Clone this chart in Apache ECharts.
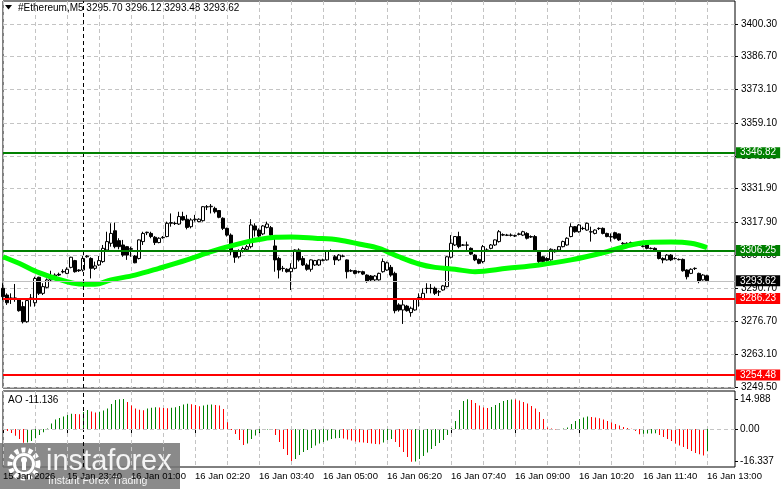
<!DOCTYPE html>
<html><head><meta charset="utf-8">
<script src="https://cdn.jsdelivr.net/npm/echarts@6/dist/echarts.min.js"></script>
<style>html,body{margin:0;padding:0;background:#fff}#c{width:781px;height:489px}</style>
</head><body><div id="c"></div>
<script>
const symbolName = '#Ethereum,M5';
const tickLabels = ['15 Jan 2026','15 Jan 23:40','16 Jan 01:00','16 Jan 02:20','16 Jan 03:40','16 Jan 05:00','16 Jan 06:20','16 Jan 07:40','16 Jan 09:00','16 Jan 10:20','16 Jan 11:40','16 Jan 13:00'];
const priceTicks = [3400.30,3386.70,3373.10,3359.10,3345.50,3331.90,3317.90,3304.30,3290.70,3276.70,3263.10,3249.50];
const aoTicks = [14.988, 0, -16.337];
const aoTickLabels = ['14.988','0.00','-16.337'];
const supportResistance = [3346.82, 3306.25, 3286.23, 3254.48];
const levelKinds = ['buy','buy','sell','sell'];

const opens = [
3290.5,3287.7,3286.2,3286.2,3285.9,3282.9,3276.6,3285.9,3284.5,3295.1,
3288.4,3290.9,3294.0,3295.6,3296.3,3297.3,3296.7,3299.2,3302.0,3298.1,
3298.1,3303.6,3302.9,3298.8,3300.2,3301.6,3306.4,3309.2,3314.4,3310.3,
3308.5,3307.8,3306.7,3303.9,3302.9,3309.9,3313.6,3313.3,3311.7,3309.5,
3311.5,3312.0,3317.5,3317.4,3317.2,3320.3,3319.2,3316.1,3319.0,3318.2,
3318.6,3324.3,3324.4,3323.7,3322.8,3319.6,3315.4,3312.6,3306.1,3303.6,
3306.0,3306.7,3307.8,3316.4,3314.7,3313.1,3315.8,3315.7,3308.1,3302.9,
3298.8,3298.4,3297.4,3298.8,3306.4,3302.9,3300.2,3298.4,3300.2,3300.2,
3302.1,3302.3,3306.0,3303.6,3302.3,3303.8,3302.3,3297.8,3297.8,3297.4,
3297.4,3296.0,3295.6,3294.0,3294.0,3297.4,3298.1,3299.2,3296.7,3283.6,
3281.5,3283.1,3280.4,3281.5,3286.6,3285.9,3290.4,3290.4,3290.5,3289.0,
3289.8,3291.2,3303.4,3308.5,3312.0,3308.4,3308.4,3307.1,3304.3,3302.5,
3301.6,3306.3,3307.1,3308.5,3309.9,3312.6,3312.5,3312.5,3312.2,3312.9,
3312.6,3313.3,3311.8,3312.0,3305.7,3303.6,3302.9,3302.3,3305.7,3306.4,
3307.8,3308.5,3312.0,3316.1,3314.0,3315.3,3314.7,3313.9,3313.3,3315.3,
3315.4,3313.3,3311.8,3313.6,3313.1,3309.0,3309.0,3309.3,3309.0,3308.4,
3307.9,3308.5,3307.0,3307.1,3305.7,3302.9,3302.3,3304.3,3302.8,3302.4,
3302.5,3298.1,3296.7,3298.7,3296.7,3294.0,3295.70];
const closes = [
3287.0,3284.5,3286.5,3286.5,3281.2,3276.6,3285.4,3286.5,3294.6,3288.4,
3291.2,3294.0,3295.3,3296.0,3296.0,3297.5,3298.4,3303.4,3297.4,3297.8,
3302.9,3303.9,3298.8,3299.8,3302.0,3307.1,3309.9,3313.3,3307.8,3307.8,
3304.3,3304.3,3307.0,3301.1,3310.6,3313.3,3313.8,3312.0,3309.5,3311.3,
3311.7,3317.5,3317.8,3317.5,3320.3,3318.9,3315.8,3318.9,3319.2,3319.2,
3324.4,3324.4,3324.6,3322.3,3320.0,3315.4,3312.6,3305.7,3303.4,3306.1,
3307.0,3307.8,3316.8,3314.7,3312.2,3316.4,3317.2,3312.6,3302.3,3298.1,
3298.7,3297.4,3298.8,3306.4,3302.3,3300.2,3298.4,3302.3,3302.0,3302.3,
3302.3,3306.1,3306.1,3302.3,3304.3,3303.9,3297.4,3297.7,3296.7,3297.3,
3296.4,3293.3,3294.0,3295.6,3296.7,3301.6,3301.1,3296.0,3281.2,3281.5,
3283.6,3281.2,3282.2,3285.9,3286.7,3288.4,3290.5,3290.5,3288.4,3289.1,
3291.5,3303.6,3309.2,3312.0,3307.8,3308.5,3308.5,3304.7,3302.3,3300.9,
3307.8,3306.4,3308.5,3310.6,3314.0,3312.8,3312.6,3312.6,3312.4,3313.1,
3314.0,3311.3,3312.0,3306.4,3301.6,3301.6,3302.0,3306.7,3306.4,3307.8,
3309.9,3311.3,3316.1,3314.0,3316.8,3315.4,3317.5,3314.0,3314.7,3315.4,
3313.3,3312.0,3312.0,3311.3,3310.6,3309.2,3309.2,3309.5,3309.2,3308.5,
3308.1,3307.1,3307.1,3306.1,3302.9,3302.3,3304.3,3302.3,3302.9,3302.5,
3297.8,3295.3,3298.4,3298.8,3293.3,3296.0,3293.62];
const lows = [
3285.6,3283.6,3284.0,3284.9,3280.8,3275.9,3276.2,3282.9,3282.9,3287.7,
3287.7,3290.5,3293.3,3295.3,3295.6,3296.7,3296.4,3298.8,3297.0,3297.3,
3297.4,3303.2,3294.6,3298.1,3299.8,3301.1,3305.7,3307.8,3307.1,3306.7,
3303.6,3302.3,3303.6,3300.9,3302.5,3308.5,3312.6,3311.3,3308.5,3309.2,
3311.1,3311.7,3316.1,3316.8,3316.8,3318.6,3315.0,3315.4,3318.2,3317.9,
3318.2,3323.0,3321.6,3321.6,3319.6,3314.7,3312.0,3304.3,3301.1,3302.9,
3305.3,3306.1,3307.1,3312.0,3311.7,3312.6,3315.4,3312.2,3297.4,3294.6,
3297.4,3297.0,3289.8,3298.4,3301.6,3299.8,3297.8,3297.4,3299.8,3299.8,
3301.7,3302.0,3305.6,3300.2,3301.8,3303.4,3294.6,3297.3,3296.3,3296.7,
3296.0,3292.8,3293.5,3293.3,3293.7,3297.0,3297.8,3295.3,3280.1,3280.8,
3275.7,3280.8,3278.7,3281.2,3282.9,3285.6,3288.4,3288.4,3287.7,3287.3,
3289.5,3290.9,3302.9,3308.1,3307.1,3308.1,3306.4,3304.3,3301.8,3300.5,
3300.9,3305.9,3306.7,3308.1,3309.5,3312.2,3312.2,3312.0,3311.8,3312.5,
3312.2,3310.8,3311.4,3305.7,3300.9,3301.1,3301.6,3302.0,3305.3,3306.1,
3307.5,3308.2,3311.7,3313.6,3313.6,3314.7,3314.4,3309.9,3312.9,3314.7,
3312.9,3311.7,3309.9,3310.8,3310.2,3308.6,3308.8,3308.9,3308.6,3308.1,
3307.5,3306.7,3306.7,3305.7,3302.5,3300.9,3302.0,3301.8,3302.5,3302.1,
3297.4,3294.2,3296.4,3298.1,3292.6,3293.7,3293.48];
const highs = [
3292.6,3288.4,3288.4,3292.3,3286.3,3284.9,3286.3,3288.1,3295.3,3295.3,
3292.6,3294.6,3297.8,3296.7,3297.0,3298.4,3299.2,3303.6,3302.3,3298.4,
3303.9,3304.3,3303.4,3301.6,3303.9,3308.5,3314.0,3317.5,3317.8,3311.3,
3310.6,3308.1,3307.8,3304.3,3310.8,3314.0,3314.0,3314.0,3312.2,3311.7,
3312.2,3318.2,3321.6,3318.2,3322.3,3322.3,3321.0,3319.6,3321.0,3319.6,
3324.7,3325.1,3325.5,3324.4,3323.0,3320.0,3315.7,3313.3,3306.4,3306.7,
3307.8,3308.5,3319.2,3317.5,3315.4,3316.8,3318.2,3316.4,3312.6,3303.6,
3299.8,3298.8,3300.9,3306.7,3307.1,3303.9,3300.9,3302.5,3302.3,3302.5,
3302.8,3306.4,3306.7,3304.3,3304.7,3304.5,3302.5,3298.4,3298.1,3297.8,
3297.8,3296.3,3296.0,3296.0,3297.0,3302.9,3301.6,3300.2,3297.4,3284.3,
3285.6,3283.6,3282.9,3286.3,3288.4,3290.5,3292.6,3292.3,3291.2,3289.8,
3291.9,3303.9,3312.6,3312.2,3314.0,3308.9,3309.9,3307.5,3304.7,3302.9,
3308.5,3307.1,3308.9,3310.8,3314.7,3313.3,3313.1,3313.3,3312.8,3313.6,
3314.4,3313.8,3312.5,3312.6,3306.4,3303.9,3303.4,3307.1,3306.8,3308.1,
3310.3,3311.7,3317.5,3316.4,3317.2,3316.1,3317.8,3316.1,3315.0,3315.8,
3315.8,3313.6,3313.3,3314.0,3313.3,3309.7,3309.6,3309.9,3309.6,3308.9,
3308.5,3308.9,3307.5,3307.5,3306.1,3303.4,3304.7,3304.7,3303.4,3302.9,
3302.9,3298.4,3298.8,3299.2,3297.0,3296.4,3296.12];
const aoValues = [
-0.6,-1.0,-2.0,-3.4,-5.0,-6.9,-6.7,-6.0,-4.6,-3.0,
-1.6,0.3,2.8,4.8,5.5,6.3,7.0,7.6,7.5,7.4,
8.5,9.5,8.8,8.3,8.6,9.2,10.2,12.5,14.5,14.9,
14.988,13.5,11.8,10.2,9.6,9.4,10.2,10.6,10.9,10.7,
10.5,10.4,10.6,10.9,11.5,12.2,12.6,12.4,12.0,11.4,
11.7,12.1,12.3,12.0,11.8,10.0,3.4,-0.5,-2.5,-5.5,
-8.0,-7.3,-5.0,-3.3,-1.5,-0.5,-0.2,-0.4,-3.0,-6.5,
-10.0,-13.0,-16.0,-15.0,-13.0,-11.5,-10.5,-9.5,-8.3,-7.3,
-6.5,-5.8,-5.0,-4.6,-4.5,-4.8,-5.3,-5.8,-6.3,-6.6,
-6.8,-7.0,-7.2,-7.5,-7.6,-6.8,-5.5,-5.0,-6.5,-9.0,
-11.5,-14.0,-16.337,-16.2,-15.0,-13.5,-11.8,-10.0,-8.5,-7.0,
-5.5,-3.0,0.5,4.0,9.5,14.0,14.9,14.5,13.0,11.8,
10.8,10.5,11.0,12.0,13.0,14.0,14.5,14.8,14.7,14.2,
13.5,12.8,11.5,10.3,8.5,5.0,0.8,0.2,-0.3,-0.1,
0.2,0.7,2.5,4.0,5.0,5.8,6.3,6.0,5.8,5.4,
4.8,4.0,3.3,2.5,1.8,1.0,0.5,0.1,-1.0,-2.6,
-2.4,-2.3,-2.2,-2.1,-3.0,-4.0,-5.0,-6.0,-7.2,-8.2,
-9.0,-10.0,-11.0,-12.0,-12.6,-13.2,-11.136];
const maIndex  = [0,4,9,14,19,23,27,33,39,46,52,57,62,64,68,72,78,84,89,94,99,104,108,113,118,126,134,142,151,156,161,167,172,176];
const maValues = [3303.6,3300.9,3297.0,3294.2,3292.3,3292.2,3294.0,3296.0,3298.8,3302.3,3305.7,3308.1,3310.2,3310.8,3311.7,3311.8,3311.3,3310.6,3308.9,3307.1,3303.6,3300.6,3299.2,3298.4,3297.4,3298.8,3300.2,3302.3,3305.7,3308.1,3309.5,3309.7,3309.2,3307.4];
const daySeparator = '16 Jan 00:00';

// time categories (M5 bars, with empty right-side shift)
const SLOTS = 184;
const pad = n => (n < 10 ? '0' : '') + n;
const categories = [];
const t0 = Date.UTC(2026, 0, 15, 22, 20);
for (let k = 0; k < SLOTS; k++) {
  const d = new Date(t0 + k * 300000);
  categories.push(d.getUTCDate() + ' Jan ' + pad(d.getUTCHours()) + ':' + pad(d.getUTCMinutes()));
}
const N = opens.length;
const candleData = opens.map((o, i) => [o, closes[i], lows[i], highs[i]]);
const maData = maIndex.map((k, j) => [categories[k], maValues[j]]);
const aoData = aoValues.map((v, i) => ({
  value: v,
  itemStyle: { color: (i > 0 && v > aoValues[i - 1]) ? '#008000' : '#ff0000' }
}));
const lastPrice = closes[N - 1];
const FONT = 'Liberation Sans';
const FS = 10;
const gridLine = { color: '#c4c4c4', type: [4, 3], width: 1 };

const levelColor = k => (k === 'buy' ? '#008000' : '#ff0000');
const levelLines = supportResistance.map((v, j) => ({
  yAxis: v,
  lineStyle: { color: levelColor(levelKinds[j]), width: 2, type: 'solid' },
  label: { backgroundColor: levelColor(levelKinds[j]) }
}));
levelLines.push({
  yAxis: lastPrice,
  lineStyle: { color: '#c0c0c0', width: 1, type: 'solid' },
  label: { backgroundColor: '#000' }
});

const chart = echarts.init(document.getElementById('c'));
chart.setOption({
  animation: false,
  backgroundColor: '#fff',
  textStyle: { fontFamily: FONT },
  grid: [
    { left: 3, top: 1, width: 732, height: 387, show: true, borderColor: '#000', borderWidth: 1 },
    { left: 3, top: 391, width: 732, height: 76, show: true, borderColor: '#000', borderWidth: 1 }
  ],
  xAxis: [
    { type: 'category', gridIndex: 0, data: categories, boundaryGap: false,
      axisLine: { show: false }, axisTick: { show: false }, axisLabel: { show: false },
      splitLine: { show: true, interval: 7, lineStyle: gridLine } },
    { type: 'category', gridIndex: 1, data: categories, boundaryGap: false,
      axisLine: { show: false },
      axisTick: { show: true, interval: 15, length: 4, lineStyle: { color: '#000' } },
      axisLabel: { show: true, interval: 15, align: 'left', margin: 4, fontSize: 9.5, color: '#000', fontFamily: FONT,
        formatter: (v, i) => tickLabels[i / 16] || '' },
      splitLine: { show: true, interval: 7, lineStyle: gridLine } }
  ],
  yAxis: [
    { type: 'value', gridIndex: 0, position: 'right', min: 3249.08, max: 3409.86,
      axisLine: { show: false },
      axisTick: { show: true, length: 3, customValues: priceTicks, lineStyle: { color: '#000' } },
      axisLabel: { customValues: priceTicks, formatter: v => v.toFixed(2), margin: 6, fontSize: FS, color: '#000', fontFamily: FONT },
      splitLine: { show: true, lineStyle: gridLine } },
    { type: 'value', gridIndex: 1, position: 'right', min: -18.99, max: 18.99,
      axisLine: { show: false },
      axisTick: { show: true, length: 3, customValues: aoTicks, lineStyle: { color: '#000' } },
      axisLabel: { customValues: aoTicks, formatter: v => aoTickLabels[aoTicks.indexOf(v)] ?? '', margin: 5, fontSize: FS, color: '#000', fontFamily: FONT },
      splitLine: { show: false } }
  ],
  series: [
    { type: 'candlestick', xAxisIndex: 0, yAxisIndex: 0, data: candleData, barWidth: 3, clip: false,
      itemStyle: { color: '#fff', color0: '#000', borderColor: '#000', borderColor0: '#000', borderWidth: 1 },
      markLine: { silent: true, symbol: ['none', 'none'], label: { show: false },
        lineStyle: { color: '#000', type: [4, 3], width: 1 },
        data: [{ xAxis: daySeparator }] }, z: 2 },
    { type: 'line', xAxisIndex: 0, yAxisIndex: 0, data: maData, showSymbol: false, smooth: 0.35,
      lineStyle: { color: '#00ff00', width: 5 }, z: 3, silent: true },
    { type: 'line', xAxisIndex: 0, yAxisIndex: 0, data: [], z: 4,
      markLine: { silent: true, symbol: ['none', 'none'],
        label: { show: true, position: 'end', distance: 1, color: '#fff', fontSize: FS, fontFamily: FONT,
          padding: [1, 4, 0, 4], lineHeight: 10, formatter: p => p.value.toFixed(2) },
        data: levelLines } },
    { type: 'bar', xAxisIndex: 1, yAxisIndex: 1, data: [], barWidth: 1, barGap: '0%' },
    { type: 'bar', xAxisIndex: 1, yAxisIndex: 1, data: aoData, barWidth: 1, barGap: '0%',
      markLine: { silent: true, symbol: ['none', 'none'], label: { show: false },
        data: [
          { xAxis: daySeparator, lineStyle: { color: '#000', type: [4, 3], width: 1 } },
          { yAxis: 0, lineStyle: { color: '#c4c4c4', type: [4, 3], width: 1 } }
        ] } }
  ],
  graphic: [
    { type: 'polygon', shape: { points: [[5, 5], [12, 5], [8.5, 9.5]] }, style: { fill: '#000' } },
    { type: 'text', x: 18, y: 8, style: { text: symbolName + ' ' + [opens[N-1], highs[N-1], lows[N-1], closes[N-1]].map(v => v.toFixed(2)).join(' '),
        font: FS + 'px ' + FONT, fill: '#000', verticalAlign: 'middle' } },
    { type: 'text', x: 8, y: 400, style: { text: 'AO ' + aoValues[N-1].toFixed(3), font: FS + 'px ' + FONT, fill: '#000', verticalAlign: 'middle' } },
    { type: 'group', z: 100, children: [
      { type: 'rect', shape: { x: 0, y: 443, width: 180, height: 46 }, style: { fill: 'rgba(118,118,118,0.85)' } },
      { type: 'circle', shape: { cx: 24, cy: 464, r: 14 }, style: { fill: 'none', stroke: '#fff', lineWidth: 5, lineDash: [4, 3] } },
      { type: 'circle', shape: { cx: 24, cy: 464, r: 9.5 }, style: { fill: 'none', stroke: '#fff', lineWidth: 3 } },
      { type: 'circle', shape: { cx: 24, cy: 460, r: 3 }, style: { fill: '#fff' } },
      { type: 'rect', shape: { x: 22, y: 461, width: 4, height: 9 }, style: { fill: '#fff' } },
      { type: 'text', x: 46, y: 462, style: { text: 'instaforex', font: '29px ' + FONT, fill: '#f4f4f4', verticalAlign: 'middle' } },
      { type: 'text', x: 48, y: 481, style: { text: 'Instant Forex Trading', font: '10.5px ' + FONT, fill: '#f4f4f4', verticalAlign: 'middle' } }
    ] }
  ]
});
</script>
</body></html>
